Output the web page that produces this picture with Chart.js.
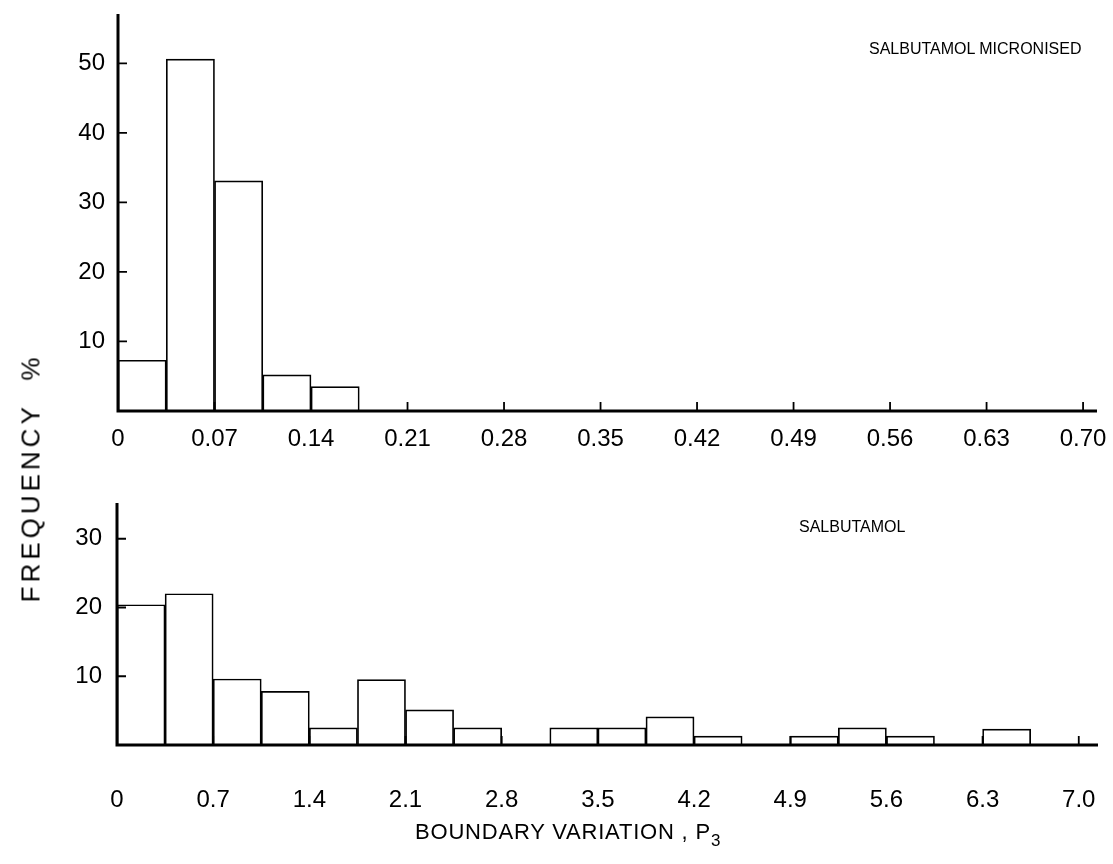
<!DOCTYPE html>
<html>
<head>
<meta charset="utf-8">
<script src="https://cdn.jsdelivr.net/npm/chart.js@4/dist/chart.umd.min.js"></script>
<style>
    body { margin: 0; background: #fff; width: 1113px; height: 864px; position: relative; overflow: hidden;
           font-family: "Liberation Sans", Arial, Helvetica, sans-serif; color: #000; }
    canvas { position: absolute; left: 0; }
    #topChart { top: 0; }
    #bottomChart { top: 450px; }
    .lbl { position: absolute; white-space: nowrap; color: #000; }
</style>
</head>
<body>
<canvas id="topChart" width="1113" height="450"></canvas>
<canvas id="bottomChart" width="1113" height="414"></canvas>

<div class="lbl" style="left:869px; top:40px; font-size:16px;">SALBUTAMOL MICRONISED</div>
<div class="lbl" style="left:799px; top:518px; font-size:16px;">SALBUTAMOL</div>
<div class="lbl" style="left:31px; top:478px; font-size:26px; letter-spacing:4px; transform: translate(-50%, -50%) rotate(-90deg);">FREQUENCY&nbsp;&nbsp;%</div>
<div class="lbl" style="left:415px; top:819px; font-size:22px; letter-spacing:0.8px;">BOUNDARY VARIATION , P<sub style="font-size:17px; vertical-align:-7px;">3</sub></div>

<script>
// Top panel: salbutamol micronised, bins of 0.035
const topBinStart = [0, 0.035, 0.07, 0.105, 0.14, 0.175, 0.21, 0.245, 0.28, 0.315,
                     0.35, 0.385, 0.42, 0.455, 0.49, 0.525, 0.56, 0.595, 0.63, 0.665];
const topFreq = [7.3, 50.6, 33.1, 5.2, 3.5, 0, 0, 0, 0, 0,
                 0, 0, 0, 0, 0, 0, 0, 0, 0, 0];
const topXTicks = ['0', '0.07', '0.14', '0.21', '0.28', '0.35', '0.42', '0.49', '0.56', '0.63', '0.70'];
const topYTicks = [10, 20, 30, 40, 50];

// Bottom panel: salbutamol, bins of 0.35
const bottomBinStart = [0, 0.35, 0.7, 1.05, 1.4, 1.75, 2.1, 2.45, 2.8, 3.15,
                        3.5, 3.85, 4.2, 4.55, 4.9, 5.25, 5.6, 5.95, 6.3, 6.65];
const bottomFreq = [20.4, 22.0, 9.6, 7.8, 2.5, 9.5, 5.1, 2.5, 0, 2.5,
                    2.5, 4.1, 1.3, 0, 1.3, 2.5, 1.3, 0, 2.3, 0];
const bottomXTicks = ['0', '0.7', '1.4', '2.1', '2.8', '3.5', '4.2', '4.9', '5.6', '6.3', '7.0'];
const bottomYTicks = [10, 20, 30];

const FONT = "'Liberation Sans', Arial, Helvetica, sans-serif";

// axes and short inward tick marks, drawn over the bars
const innerAxes = {
    id: 'innerAxes',
    afterDatasetsDraw(chart, args, opts) {
        const { ctx, scales: { x, y } } = chart;
        const base = y.getPixelForValue(0);
        const left = x.getPixelForValue(0);
        ctx.save();
        ctx.strokeStyle = '#000';
        ctx.lineCap = 'butt';
        ctx.lineWidth = 1.8;
        ctx.beginPath();
        x.ticks.forEach(t => {
            if (t.value === 0) return;
            const px = x.getPixelForValue(t.value);
            ctx.moveTo(px, base);
            ctx.lineTo(px, base - opts.len);
        });
        y.ticks.forEach(t => {
            const py = y.getPixelForValue(t.value);
            ctx.moveTo(left, py);
            ctx.lineTo(left + opts.len, py);
        });
        ctx.stroke();
        ctx.lineWidth = 3;
        ctx.beginPath();
        ctx.moveTo(left - 1.5, base);
        ctx.lineTo(x.right, base);
        ctx.moveTo(left, base + 1.5);
        ctx.lineTo(left, y.top);
        ctx.stroke();
        ctx.restore();
    }
};

function makeHistogram(canvasId, binStart, freq, binWidth, xTicks, yTicks, area) {
    const ctx = document.getElementById(canvasId);
    const xTickValues = xTicks.map(parseFloat);
    return new Chart(ctx, {
        type: 'bar',
        data: {
            datasets: [{
                data: binStart.map((b, i) => ({ x: b + binWidth / 2, y: freq[i] })),
                backgroundColor: '#ffffff',
                borderColor: '#000000',
                borderWidth: 1.7,
                barPercentage: 1,
                categoryPercentage: 1
            }]
        },
        options: {
            responsive: false,
            animation: false,
            events: [],
            layout: { padding: { left: 0, top: area.top, right: area.right, bottom: 0 } },
            plugins: {
                legend: { display: false },
                tooltip: { enabled: false },
                innerAxes: { len: 9 }
            },
            scales: {
                x: {
                    type: 'linear',
                    offset: false,
                    min: 0,
                    max: area.xMax,
                    grid: { display: false },
                    border: { display: false },
                    afterBuildTicks(scale) {
                        scale.ticks = xTickValues.map(v => ({ value: v }));
                    },
                    afterFit(scale) {
                        // keep the plot area fixed; labels may hang into the margins
                        scale.height = area.xHeight;
                        scale.paddingLeft = 0;
                        scale.paddingRight = 0;
                    },
                    ticks: {
                        autoSkip: false,
                        maxRotation: 0,
                        padding: area.xPad,
                        color: '#000',
                        font: { family: FONT, size: 24 },
                        callback(value, index) { return xTicks[index]; }
                    }
                },
                y: {
                    min: 0,
                    max: area.yMax,
                    grid: { display: false },
                    border: { display: false },
                    afterBuildTicks(scale) {
                        scale.ticks = yTicks.map(v => ({ value: v }));
                    },
                    afterFit(scale) {
                        scale.width = area.yWidth;
                        scale.paddingTop = 0;
                        scale.paddingBottom = 0;
                    },
                    ticks: {
                        padding: area.yPad,
                        color: '#000',
                        font: { family: FONT, size: 24 },
                        callback(value) { return String(value); }
                    }
                }
            }
        },
        plugins: [innerAxes]
    });
}

makeHistogram('topChart', topBinStart, topFreq, 0.035, topXTicks, topYTicks,
    { top: 14, right: 16, xMax: 0.7101, yMax: 57.1, xHeight: 39, yWidth: 118, xPad: 6, yPad: 5 });

makeHistogram('bottomChart', bottomBinStart, bottomFreq, 0.35, bottomXTicks, bottomYTicks,
    { top: 53, right: 15, xMax: 7.14, yMax: 35.2, xHeight: 119, yWidth: 117, xPad: 33, yPad: 7 });
</script>
</body>
</html>
